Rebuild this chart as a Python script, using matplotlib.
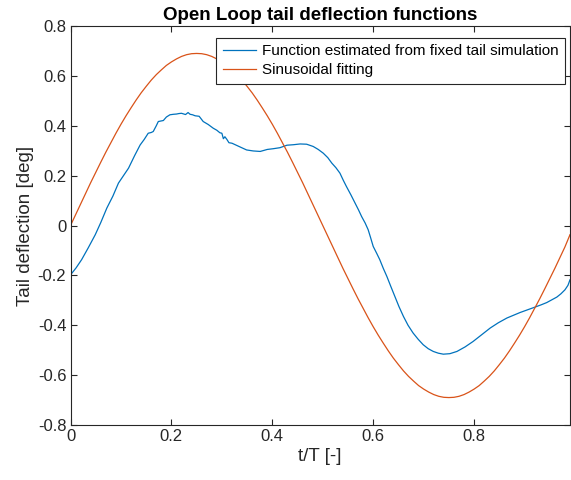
import numpy as np
import matplotlib
matplotlib.use("Agg")
import matplotlib.pyplot as plt
from matplotlib.ticker import FuncFormatter

plt.rcParams['font.family'] = ['Liberation Sans', 'DejaVu Sans']
plt.rcParams['axes.unicode_minus'] = False

fit_t = np.round(np.arange(100) * 0.01, 2)
fit_y = [0.000, 0.043, 0.086, 0.129, 0.172, 0.213, 0.254, 0.294, 0.332, 0.370,
         0.406, 0.440, 0.472, 0.503, 0.532, 0.558, 0.583, 0.605, 0.624, 0.642,
         0.656, 0.668, 0.678, 0.685, 0.689, 0.690, 0.689, 0.685, 0.678, 0.668,
         0.656, 0.642, 0.624, 0.605, 0.583, 0.558, 0.532, 0.503, 0.472, 0.440,
         0.406, 0.370, 0.332, 0.294, 0.254, 0.213, 0.172, 0.129, 0.086, 0.043,
         0.000, -0.043, -0.086, -0.129, -0.172, -0.213, -0.254, -0.294, -0.332, -0.370,
         -0.406, -0.440, -0.472, -0.503, -0.532, -0.558, -0.583, -0.605, -0.624, -0.642,
         -0.656, -0.668, -0.678, -0.685, -0.689, -0.690, -0.689, -0.685, -0.678, -0.668,
         -0.656, -0.642, -0.624, -0.605, -0.583, -0.558, -0.532, -0.503, -0.472, -0.440,
         -0.406, -0.370, -0.332, -0.294, -0.254, -0.213, -0.172, -0.129, -0.086, -0.037]

# function estimated from fixed tail simulation
sim_t = [0.000, 0.011, 0.022, 0.035, 0.049, 0.060, 0.072, 0.084, 0.095, 0.105,
         0.115, 0.127, 0.138, 0.146, 0.154, 0.160, 0.164, 0.170, 0.174, 0.184,
         0.190, 0.197, 0.204, 0.210, 0.215, 0.220, 0.228, 0.233, 0.237, 0.242,
         0.247, 0.255, 0.263, 0.273, 0.283, 0.290, 0.296, 0.300, 0.303, 0.306,
         0.310, 0.314, 0.320, 0.335, 0.349, 0.362, 0.376, 0.390, 0.402, 0.415,
         0.429, 0.442, 0.455, 0.468, 0.481, 0.491, 0.501, 0.510, 0.518, 0.526,
         0.534, 0.541, 0.547, 0.556, 0.564, 0.571, 0.577, 0.584, 0.590, 0.595,
         0.600, 0.607, 0.613, 0.620, 0.627, 0.635, 0.643, 0.651, 0.660, 0.669,
         0.679, 0.689, 0.699, 0.709, 0.719, 0.729, 0.739, 0.752, 0.766, 0.782,
         0.798, 0.815, 0.832, 0.848, 0.865, 0.878, 0.891, 0.906, 0.921, 0.933,
         0.944, 0.954, 0.964, 0.972, 0.980, 0.986, 0.990]
sim_y = [-0.198, -0.170, -0.137, -0.090, -0.037, 0.012, 0.070, 0.118, 0.170, 0.200,
         0.230, 0.280, 0.323, 0.345, 0.370, 0.373, 0.377, 0.400, 0.417, 0.421,
         0.435, 0.444, 0.446, 0.447, 0.449, 0.450, 0.445, 0.453, 0.446, 0.444,
         0.440, 0.438, 0.417, 0.405, 0.390, 0.382, 0.372, 0.370, 0.348, 0.356,
         0.345, 0.332, 0.330, 0.316, 0.303, 0.299, 0.297, 0.305, 0.308, 0.312,
         0.322, 0.324, 0.327, 0.326, 0.317, 0.305, 0.290, 0.272, 0.250, 0.232,
         0.210, 0.180, 0.156, 0.122, 0.090, 0.062, 0.036, 0.010, -0.017, -0.050,
         -0.084, -0.112, -0.137, -0.172, -0.204, -0.245, -0.285, -0.325, -0.365, -0.400,
         -0.431, -0.456, -0.478, -0.494, -0.505, -0.512, -0.516, -0.514, -0.505, -0.487,
         -0.465, -0.438, -0.411, -0.390, -0.371, -0.360, -0.349, -0.338, -0.327, -0.318,
         -0.309, -0.298, -0.287, -0.274, -0.258, -0.240, -0.218]

fig = plt.figure(figsize=(5.71, 4.8), dpi=100)
ax = fig.add_axes([0.1235, 0.1146, 0.8747, 0.8312])

ax.plot(sim_t, sim_y, color='#0072BD', lw=0.9,
        label='Function estimated from fixed tail simulation')
ax.plot(fit_t, fit_y, color='#D95319', lw=0.9, label='Sinusoidal fitting')

ax.set_xlim(0, 0.99)
ax.set_ylim(-0.8, 0.8)
ax.set_xticks([0, 0.2, 0.4, 0.6, 0.8])
ax.set_yticks([-0.8, -0.6, -0.4, -0.2, 0, 0.2, 0.4, 0.6, 0.8])
tick_fmt = FuncFormatter(lambda v, p: '0' if abs(v) < 1e-9 else '%g' % round(v, 2))
ax.xaxis.set_major_formatter(tick_fmt)
ax.yaxis.set_major_formatter(tick_fmt)

for s in ax.spines.values():
    s.set_color('#262626')
    s.set_linewidth(0.8)
ax.tick_params(direction='in', length=4, width=0.8, colors='#262626',
               labelsize=12, top=True, right=True, pad=3)

ax.set_xlabel('t/T [-]', fontsize=13.5, color='#262626', labelpad=3)
ax.set_ylabel('Tail deflection [deg]', fontsize=13.5, color='#262626', labelpad=3)
ax.set_title('Open Loop tail deflection functions', fontsize=13.5,
             fontweight='bold', pad=4)

leg = ax.legend(loc='upper right', bbox_to_anchor=(0.99, 0.97), borderaxespad=0,
                fontsize=11, frameon=True, fancybox=False, framealpha=1,
                handlelength=2.2, handletextpad=0.4, borderpad=0.4,
                labelspacing=0.35)
leg.get_frame().set_edgecolor('#262626')
leg.get_frame().set_linewidth(0.8)

fig.savefig('out.png', dpi=100)
